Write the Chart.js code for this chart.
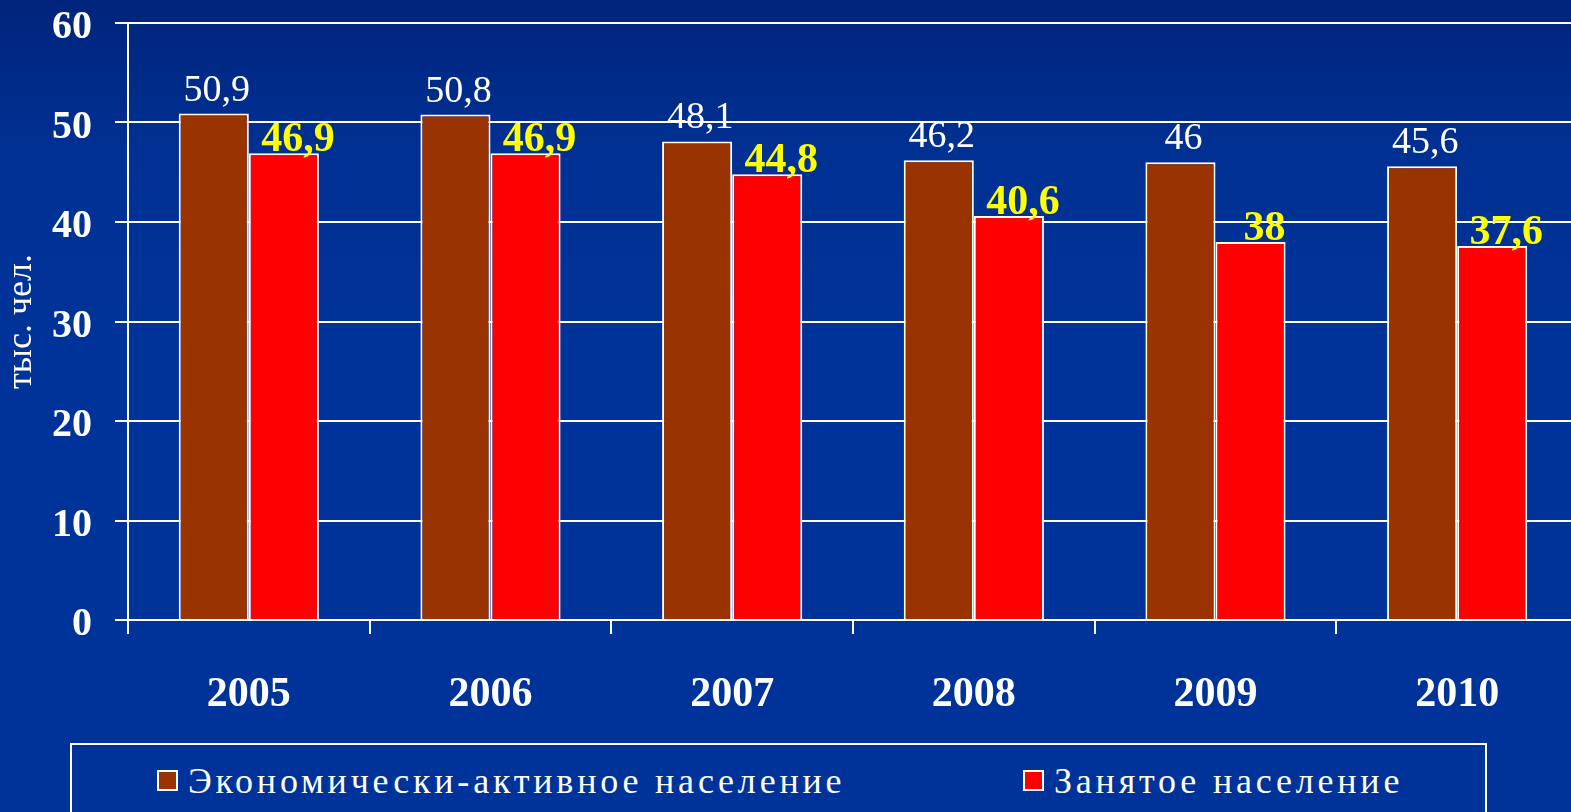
<!DOCTYPE html>
<html>
<head>
<meta charset="utf-8">
<script src="https://cdn.jsdelivr.net/npm/chart.js@4.4.0/dist/chart.umd.min.js"></script>
<style>
  html, body { margin: 0; padding: 0; width: 1571px; height: 812px; overflow: hidden; }
  body { background: linear-gradient(180deg, #00247c 0%, #003092 18%, #003399 40%, #003399 100%); position: relative; font-family: "Liberation Serif", serif; }
  #chart { position: absolute; left: 0; top: 0; }
  #legend { position: absolute; left: 70px; top: 743px; width: 1413px; height: 100px; border: 2px solid #fff; }
  .item { position: absolute; top: 18px; color: #fff; font-size: 36px; letter-spacing: 3.8px; white-space: nowrap; line-height: 36px; }
  .item span.box { display: inline-block; width: 17px; height: 17px; border: 2px solid #fff; margin-right: 10px; vertical-align: 2px; }
</style>
</head>
<body>
<canvas id="chart" width="1579" height="740"></canvas>
<div id="legend"></div>
<script>
var years = ['2005', '2006', '2007', '2008', '2009', '2010'];
var active = [50.9, 50.8, 48.1, 46.2, 46, 45.6];
var employed = [46.9, 46.9, 44.8, 40.6, 38, 37.6];
var series_names = ['Экономически-активное население', 'Занятое население'];
var series_colors = ['#993300', '#ff0000'];
var y_ticks = [0, 10, 20, 30, 40, 50, 60];

function fmt(v){
    return String(v).replace('.', ',');
}

// подписи значений над столбцами
var valueLabels = {
    id: 'valueLabels',
    afterDatasetsDraw: function(chart){
        var ctx = chart.ctx;
        ctx.save();
        ctx.textAlign = 'center';
        ctx.textBaseline = 'alphabetic';
        chart.data.datasets.forEach(function(ds, i){
            var meta = chart.getDatasetMeta(i);
            meta.data.forEach(function(bar, j){
                if(i == 0){
                    ctx.font = '38px "Liberation Serif"';
                    ctx.fillStyle = '#ffffff';
                    ctx.fillText(fmt(ds.data[j]), bar.x + 3, bar.y - 13);
                } else {
                    ctx.font = 'bold 42px "Liberation Serif"';
                    ctx.fillStyle = '#ffff00';
                    ctx.fillText(fmt(ds.data[j]), bar.x + 14, bar.y - 2);
                }
            });
        });
        ctx.restore();
    }
};

var ctx = document.getElementById('chart').getContext('2d');
var chart = new Chart(ctx, {
    type: 'bar',
    data: {
        labels: years,
        datasets: [{
            label: series_names[0],
            data: active,
            backgroundColor: series_colors[0],
            borderColor: '#ffffff',
            borderWidth: 2,
            borderSkipped: 'bottom'
        }, {
            label: series_names[1],
            data: employed,
            backgroundColor: series_colors[1],
            borderColor: '#ffffff',
            borderWidth: 2,
            borderSkipped: 'bottom'
        }]
    },
    options: {
        responsive: false,
        animation: false,
        layout: { padding: { top: 23, right: 1, left: 0, bottom: 0 } },
        datasets: { bar: { barPercentage: 1, categoryPercentage: 0.58 } },
        plugins: {
            legend: { display: false },
            tooltip: { enabled: false }
        },
        scales: {
            x: {
                afterFit: function(s){ s.height = 120; },
                grid: { display: true, drawOnChartArea: false, offset: true, color: '#ffffff', lineWidth: 2, tickLength: 14 },
                border: { color: '#ffffff', width: 2 },
                ticks: { color: '#ffffff', font: { family: 'Liberation Serif', size: 42, weight: 'bold', lineHeight: 1 }, padding: 40 }
            },
            y: {
                min: 0,
                max: 60,
                afterFit: function(s){ s.width = 128; s.paddingTop = 0; s.paddingBottom = 0; },
                afterBuildTicks: function(s){ s.ticks = y_ticks.map(function(v){ return { value: v }; }); },
                grid: { color: '#ffffff', lineWidth: 2, tickLength: 13 },
                border: { color: '#ffffff', width: 2 },
                ticks: { color: '#ffffff', font: { family: 'Liberation Serif', size: 40, weight: 'bold', lineHeight: 1 }, padding: 23, labelOffset: 5 },
                title: {
                    display: true,
                    text: 'тыс. чел.',
                    color: '#ffffff',
                    font: { family: 'Liberation Serif', size: 36, lineHeight: 1.2 },
                    padding: { top: 0, bottom: 0 }
                }
            }
        }
    },
    plugins: [valueLabels]
});

// легенда в рамке снизу
var legend = document.getElementById('legend');
var item_left = [85, 951];
for(var i=0;i<series_names.length;i++){
    var item = document.createElement('div');
    item.className = 'item';
    item.style.left = item_left[i] + 'px';
    var box = document.createElement('span');
    box.className = 'box';
    box.style.background = series_colors[i];
    item.appendChild(box);
    item.appendChild(document.createTextNode(series_names[i]));
    legend.appendChild(item);
}
</script>
</body>
</html>
